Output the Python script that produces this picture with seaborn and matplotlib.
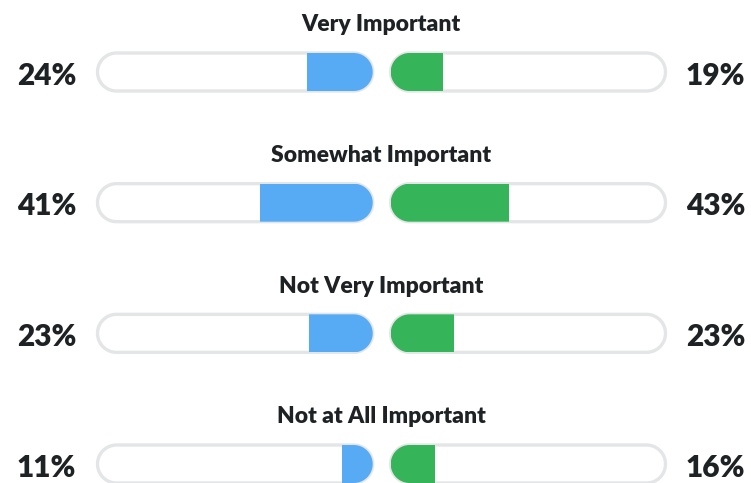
import numpy as np
import pandas as pd
import matplotlib
matplotlib.use("Agg")
import matplotlib.pyplot as plt
from matplotlib.path import Path
from matplotlib.patches import PathPatch
import seaborn as sns

# ---- data ----
categories = ["Very Important", "Somewhat Important", "Not Very Important", "Not at All Important"]
left_values = [24, 41, 23, 11]
right_values = [19, 43, 23, 16]

BLUE = "#57abf5"
GREEN = "#35b45a"
TRACK = "#e3e5e6"
TEXT = "#1e2225"

sns.set_theme(style="white")
plt.rcParams["font.family"] = ["Lato", "DejaVu Sans"]

W, H = 751, 483
fig = plt.figure(figsize=(W / 100, H / 100), dpi=100)
fig.patch.set_facecolor("white")

# layout in pixels
row0, row_step = 72.0, 130.67
bar_px = 38.0
left_x0, left_x1 = 97.5, 372.7
right_x0, right_x1 = 390.7, 665.5

ylim = ((H - row0) / row_step, -row0 / row_step)
bar_h = bar_px / row_step


def pill_path(x0, x1, yc, rx, ry, n=40):
    # rounded capsule polygon in data units
    t1 = np.linspace(-np.pi / 2, np.pi / 2, n)
    t2 = np.linspace(np.pi / 2, 3 * np.pi / 2, n)
    xr = x1 - rx + rx * np.cos(t1)
    yr = yc + ry * np.sin(t1)
    xl = x0 + rx + rx * np.cos(t2)
    yl = yc + ry * np.sin(t2)
    xs = np.concatenate([xr, xl, xr[:1]])
    ys = np.concatenate([yr, yl, yr[:1]])
    verts = np.column_stack([xs, ys])
    codes = [Path.MOVETO] + [Path.LINETO] * (len(verts) - 2) + [Path.CLOSEPOLY]
    return Path(verts, codes)


def side(ax, values, color, invert, px0, px1):
    df = pd.DataFrame({"category": categories, "value": values})
    sns.barplot(data=df, x="value", y="category", ax=ax, color=color,
                width=bar_h, orient="h", saturation=1, edgecolor="none")
    ax.set_ylim(*ylim)
    if invert:
        ax.set_xlim(100, 0)
    else:
        ax.set_xlim(0, 100)
    ax.axis("off")
    x_per_px = 100.0 / (px1 - px0)
    rx = (bar_px / 2) * x_per_px
    ry = (bar_px / 2) / row_step
    for i, patch in enumerate(ax.patches):
        pp = pill_path(0, 100, i, rx, ry)
        track = PathPatch(pp, facecolor="white", edgecolor=TRACK, lw=2.4,
                          transform=ax.transData, zorder=1, clip_on=False)
        ax.add_patch(track)
        clip = PathPatch(pp, transform=ax.transData, facecolor="none", edgecolor="none")
        patch.set_clip_path(clip)
        patch.set_zorder(3)


axL = fig.add_axes([left_x0 / W, 0, (left_x1 - left_x0) / W, 1])
axR = fig.add_axes([right_x0 / W, 0, (right_x1 - right_x0) / W, 1])
side(axL, left_values, BLUE, True, left_x0, left_x1)
side(axR, right_values, GREEN, False, right_x0, right_x1)

for i, cat in enumerate(categories):
    yc = row0 + i * row_step
    fig.text(381 / W, 1 - (yc - 40.7) / H, cat, ha="center", va="baseline",
             fontsize=16.5, fontweight="heavy", color=TEXT)
    fig.text(76 / W, 1 - (yc + 12.7) / H, f"{left_values[i]}%", ha="right",
             va="baseline", fontsize=21.5, fontweight="heavy", color=TEXT)
    fig.text(686 / W, 1 - (yc + 12.7) / H, f"{right_values[i]}%", ha="left",
             va="baseline", fontsize=21.5, fontweight="heavy", color=TEXT)

fig.savefig("out.png", dpi=100, facecolor="white")
